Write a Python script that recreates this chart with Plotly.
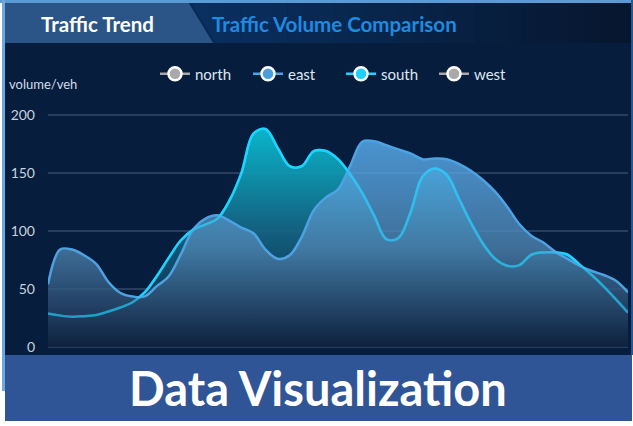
import plotly.graph_objects as go

# ---- data ----
categories = list(range(49))
east = [54, 84, 84, 79, 71.5, 56, 46.5, 43.5, 43.5, 52.4, 61, 80, 101, 110.5, 113.5, 109,
        103, 98, 84, 76, 79, 95, 118, 129, 136, 156, 177, 177.5, 174, 170.5, 167, 162,
        162.5, 162, 158, 152, 144, 134, 121, 106, 96, 90, 82, 76, 70, 65.5, 62, 57, 47]
south = [28.7, 27, 26, 26.5, 27.5, 30.5, 34, 38.5, 47, 61, 77, 92, 101, 105.5, 110.5, 126,
         150, 184, 188, 172, 156, 156, 169, 169, 162, 149, 133, 113, 93, 94, 116, 147,
         154, 148.5, 128, 107, 89, 76, 70, 70.5, 79.5, 81.5, 81.5, 79.5, 71, 62, 52, 41, 29.5]
legend_names = ["north", "east", "south", "west"]
y_ticks = [0, 50, 100, 150, 200]

# ---- geometry helpers ----
W, H = 633, 426
L, R, T, B = 48, 5, 114, 78
PW, PH = W - L - R, H - T - B


def X(px):
    return (px - L) / PW


def Y(py):
    return (H - B - py) / PH


FONT = "Lato"

fig = go.Figure()

# south first (drawn beneath east)
fig.add_trace(go.Scatter(
    x=categories, y=south, mode="lines", name="south", showlegend=False,
    line=dict(color="#1fd3ff", width=2.5, shape="spline", smoothing=1),
    fill="tozeroy",
    fillgradient=dict(type="vertical", start=0, stop=190,
                      colorscale=[[0, "rgba(8,30,62,0.9)"], [0.53, "rgba(21,103,134,0.9)"],
                                  [1, "rgba(10,200,220,0.9)"]]),
))
fig.add_trace(go.Scatter(
    x=categories, y=east, mode="lines", name="east", showlegend=False,
    line=dict(color="#4da2e2", width=2.5, shape="spline", smoothing=1),
    fill="tozeroy",
    fillgradient=dict(type="vertical", start=0, stop=178,
                      colorscale=[[0, "rgba(16,33,62,0.8)"], [0.48, "rgba(77,131,175,0.8)"],
                                  [1, "rgba(91,178,245,0.8)"]]),
))
# south line seen through the translucent east area
fig.add_trace(go.Scatter(
    x=categories, y=south, mode="lines", name="south", showlegend=False,
    line=dict(color="rgba(31,211,255,0.55)", width=2.5, shape="spline", smoothing=1),
))

legend_line = {"north": "#a8a8a8", "east": "#4da2e2", "south": "#1fd3ff", "west": "#a8a8a8"}
legend_fill = {"north": "#a9a9a9", "east": "#4a9fe0", "south": "#1ed0ff", "west": "#a9a9a9"}
for i, nm in enumerate(legend_names):
    fig.add_trace(go.Scatter(
        x=[None], y=[None], mode="lines+markers", name=nm, legendrank=i + 1,
        line=dict(color=legend_line[nm], width=2.5),
        marker=dict(size=13, color=legend_fill[nm], line=dict(color="white", width=2.5)),
    ))

shapes = []
# main dark background
shapes.append(dict(type="rect", xref="paper", yref="paper", x0=X(5), x1=X(632), y0=Y(355), y1=Y(3),
                   fillcolor="#061d3e", line=dict(width=0), layer="below"))
# header gradient bands
n = 40
c0 = (11, 60, 120)
c1 = (7, 23, 47)
x_start, x_end = 5, 632
for k in range(n):
    t = k / (n - 1)
    col = tuple(int(c0[j] + (c1[j] - c0[j]) * t) for j in range(3))
    xa = x_start + (x_end - x_start) * k / n
    xb = x_start + (x_end - x_start) * (k + 1) / n + 0.5
    shapes.append(dict(type="rect", xref="paper", yref="paper", x0=X(xa), x1=X(xb), y0=Y(43), y1=Y(3),
                       fillcolor="rgb(%d,%d,%d)" % col, line=dict(width=0), layer="below"))
# tab
shapes.append(dict(type="path", xref="paper", yref="paper",
                   path="M %f %f L %f %f L %f %f L %f %f Z" % (X(5), Y(3), X(189), Y(3), X(213), Y(43), X(5), Y(43)),
                   fillcolor="#2a5586", line=dict(width=0), layer="below"))
shapes.append(dict(type="line", xref="paper", yref="paper", x0=X(190), y0=Y(3), x1=X(215), y1=Y(43),
                   line=dict(color="#0a2a55", width=2), layer="below"))
# borders
shapes.append(dict(type="line", xref="paper", yref="paper", x0=X(0), x1=X(633), y0=Y(1.5), y1=Y(1.5),
                   line=dict(color="#5b9bd5", width=3), layer="below"))
shapes.append(dict(type="line", xref="paper", yref="paper", x0=X(3.5), x1=X(3.5), y0=Y(0), y1=Y(391),
                   line=dict(color="#6fa8dc", width=3), layer="below"))
shapes.append(dict(type="line", xref="paper", yref="paper", x0=X(632), x1=X(632), y0=Y(0), y1=Y(355),
                   line=dict(color="#1d5a9a", width=2), layer="below"))
# bottom banner
shapes.append(dict(type="rect", xref="paper", yref="paper", x0=X(5), x1=X(632), y0=Y(421), y1=Y(355),
                   fillcolor="#2f5597", line=dict(width=0), layer="below"))

annotations = [
    dict(text="Traffic Trend", x=X(97), y=Y(24), xref="paper", yref="paper", showarrow=False,
         font=dict(family=FONT, size=20.5, color="white", weight="bold"), xanchor="center", yanchor="middle"),
    dict(text="Traffic Volume Comparison", x=X(334), y=Y(24), xref="paper", yref="paper", showarrow=False,
         font=dict(family=FONT, size=20.5, color="#1e8ae0", weight="bold"), xanchor="center", yanchor="middle"),
    dict(text="volume/veh", x=X(7), y=Y(84), xref="paper", yref="paper", showarrow=False,
         font=dict(family=FONT, size=13, color="#d4dce8"), xanchor="left", yanchor="middle"),
    dict(text="Data Visualization", x=X(318), y=Y(388), xref="paper", yref="paper", showarrow=False,
         font=dict(family=FONT, size=47, color="white", weight="bold"), xanchor="center", yanchor="middle"),
]

fig.update_layout(
    width=W, height=H,
    margin=dict(l=L, r=R, t=T, b=B, pad=0),
    paper_bgcolor="white", plot_bgcolor="rgba(0,0,0,0)",
    font=dict(family=FONT),
    shapes=shapes, annotations=annotations,
    showlegend=True,
    legend=dict(orientation="h", x=X(155), y=Y(74), xanchor="left", yanchor="middle",
                bgcolor="rgba(0,0,0,0)", font=dict(family=FONT, size=15, color="#dfe6ee"),
                itemwidth=30, entrywidth=48, entrywidthmode="pixels", traceorder="normal"),
    xaxis=dict(range=[0, 48], showgrid=False, zeroline=False, showticklabels=False, showline=False,
               fixedrange=True),
    yaxis=dict(range=[-1, 201], tickvals=y_ticks, showgrid=True, gridcolor="rgba(120,140,170,0.3)",
               gridwidth=1.5, zeroline=False, showline=False, ticks="",
               tickfont=dict(family=FONT, size=14, color="#c8d2de"), ticklabelstandoff=12,
               fixedrange=True),
)

fig.write_html("out.html", config={"displayModeBar": False},
               post_script="document.body.style.margin='0';document.body.style.padding='0';")
